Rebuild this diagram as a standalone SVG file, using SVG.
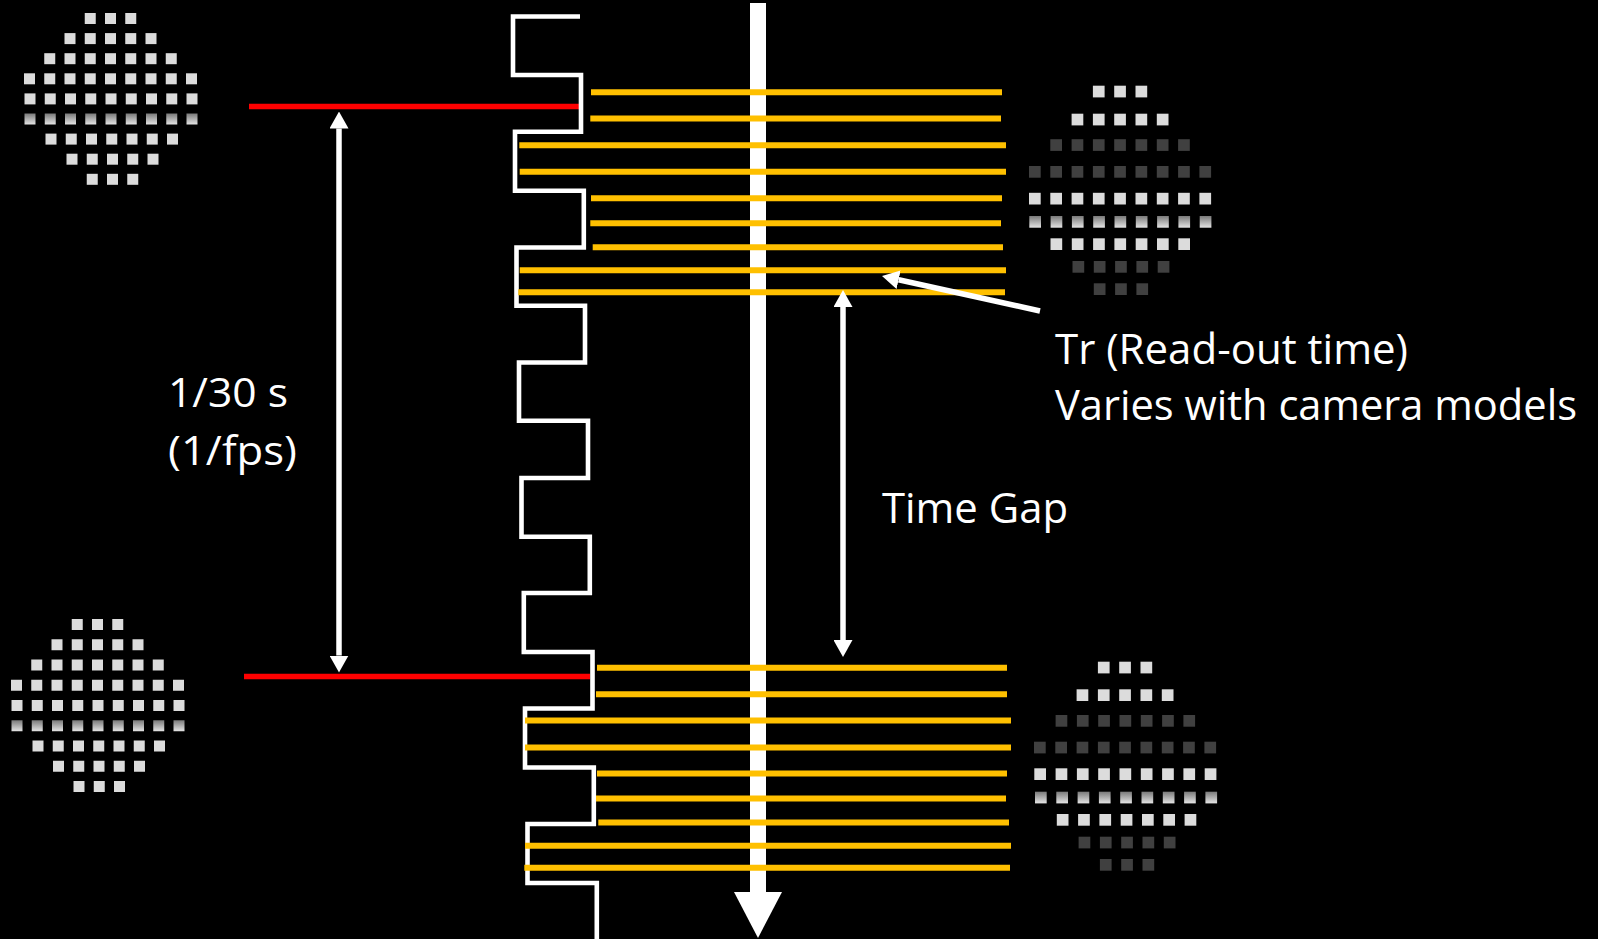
<svg xmlns="http://www.w3.org/2000/svg" xmlns:xlink="http://www.w3.org/1999/xlink" width="1598" height="939" viewBox="0 0 1598 939">
<style>
.lt{fill:#dcdcdc}
.dk{fill:#404040}
.gr{fill:url(#grad)}
.red{stroke:#ff0000;stroke-width:5.5;fill:none}
.ylw{stroke:#ffc000;stroke-width:6;fill:none}
.arr{stroke:#ffffff;stroke-width:5.5;fill:none}
.wave{stroke:#ffffff;stroke-width:4.6;fill:none;stroke-linejoin:miter}
.lbl{fill:#ffffff;font-family:"Open Sans","Liberation Sans",sans-serif}
</style>
<defs>
<linearGradient id="grad" x1="0" y1="0" x2="0" y2="1">
<stop offset="0" stop-color="#7a7a7a"/>
<stop offset="1" stop-color="#e4e4e4"/>
</linearGradient>
<marker id="ah" markerUnits="userSpaceOnUse" markerWidth="17" markerHeight="19" viewBox="0 -9.5 17 19" refX="0" refY="0" orient="auto-start-reverse">
<path d="M0,-9.5 L17,0 L0,9.5 z" fill="#ffffff"/>
</marker>
<g id="l3"><rect x="0" width="11" height="11"/><rect x="20.25" width="11" height="11"/><rect x="40.5" width="11" height="11"/></g>
<g id="l5"><use href="#l3"/><rect x="60.75" width="11" height="11"/><rect x="81" width="11" height="11"/></g>
<g id="l7"><use href="#l5"/><rect x="101.25" width="11" height="11"/><rect x="121.5" width="11" height="11"/></g>
<g id="l9"><use href="#l7"/><rect x="141.75" width="11" height="11"/><rect x="162" width="11" height="11"/></g>
<g id="r3"><rect x="0" width="11.7" height="11.7"/><rect x="21.3" width="11.7" height="11.7"/><rect x="42.6" width="11.7" height="11.7"/></g>
<g id="r5"><use href="#r3"/><rect x="63.9" width="11.7" height="11.7"/><rect x="85.2" width="11.7" height="11.7"/></g>
<g id="r7"><use href="#r5"/><rect x="106.5" width="11.7" height="11.7"/><rect x="127.8" width="11.7" height="11.7"/></g>
<g id="r9"><use href="#r7"/><rect x="149.1" width="11.7" height="11.7"/><rect x="170.4" width="11.7" height="11.7"/></g>
</defs>
<rect width="1598" height="939" fill="#000000"/>

<g id="pattern-top-left">
<use href="#l3" x="84.75" y="13" class="lt"/>
<use href="#l5" x="64.5" y="33.1" class="lt"/>
<use href="#l7" x="44.25" y="53.2" class="lt"/>
<use href="#l9" x="24" y="73.3" class="lt"/>
<use href="#l9" x="24.5" y="93.4" class="lt"/>
<use href="#l9" x="24.5" y="113.5" class="gr"/>
<use href="#l7" x="45.5" y="133.6" class="lt"/>
<use href="#l5" x="66.5" y="153.7" class="lt"/>
<use href="#l3" x="86.75" y="173.8" class="lt"/>
</g>

<g id="pattern-bottom-left">
<use href="#l3" x="71.75" y="619" class="lt"/>
<use href="#l5" x="51.5" y="639.25" class="lt"/>
<use href="#l7" x="31.25" y="659.5" class="lt"/>
<use href="#l9" x="11" y="679.75" class="lt"/>
<use href="#l9" x="11.5" y="700" class="lt"/>
<use href="#l9" x="11.5" y="720.25" class="gr"/>
<use href="#l7" x="32.5" y="740.5" class="lt"/>
<use href="#l5" x="53" y="760.75" class="lt"/>
<use href="#l3" x="73.5" y="781" class="lt"/>
</g>

<g id="pattern-top-right">
<use href="#r3" x="1092.9" y="85.7" class="lt"/>
<use href="#r5" x="1071.6" y="113.7" class="lt"/>
<use href="#r7" x="1050.3" y="139.2" class="dk"/>
<use href="#r9" x="1029" y="166" class="dk"/>
<use href="#r9" x="1029" y="192.8" class="lt"/>
<use href="#r9" x="1029.3" y="216" class="gr"/>
<use href="#r7" x="1050.5" y="238.3" class="lt"/>
<use href="#r5" x="1072.5" y="261" class="dk"/>
<use href="#r3" x="1093.8" y="283.3" class="dk"/>
</g>

<g id="pattern-bottom-right">
<use href="#r3" x="1097.9" y="661.7" class="lt"/>
<use href="#r5" x="1076.6" y="689.3" class="lt"/>
<use href="#r7" x="1055.6" y="715" class="dk"/>
<use href="#r9" x="1034" y="741.7" class="dk"/>
<use href="#r9" x="1034.3" y="768.3" class="lt"/>
<use href="#r9" x="1035" y="791.7" class="gr"/>
<use href="#r7" x="1056.8" y="814" class="lt"/>
<use href="#r5" x="1078.6" y="836.7" class="dk"/>
<use href="#r3" x="1099.9" y="859" class="dk"/>
</g>

<g id="frame-markers">
<line class="red" x1="249" y1="106.5" x2="580" y2="106.5"/>
<line class="red" x1="244" y1="676.5" x2="590" y2="676.5"/>
</g>

<g id="exposure-wave">
<path class="wave" d="M580,16.5 L513,16.5 L513,75 L581,75 L581,131.8 L515,131.8 L515,190.8 L583.8,190.8 L583.8,247.5 L516.5,247.5 L516.5,305.8 L585,305.8 L585,362.5 L519,362.5 L519,420.8 L588,420.8 L588,478 L521.5,478 L521.5,536.8 L589.8,536.8 L589.8,593 L523.8,593 L523.8,652 L592.5,652 L592.5,708.5 L525,708.5 L525,767.5 L593.8,767.5 L593.8,824 L527.5,824 L527.5,883 L596.8,883 L596.8,942"/>
</g>

<g id="timeline">
<line x1="758" y1="3" x2="758" y2="893" stroke="#ffffff" stroke-width="16"/>
<polygon points="734,892 782,892 758,938" fill="#ffffff"/>
</g>

<g id="readout-lines-1">
<line class="ylw" x1="591" y1="92.2" x2="1002" y2="92.2"/>
<line class="ylw" x1="590.3" y1="118.5" x2="1001" y2="118.5"/>
<line class="ylw" x1="519.3" y1="145.2" x2="1006" y2="145.2"/>
<line class="ylw" x1="519.7" y1="171.8" x2="1006" y2="171.8"/>
<line class="ylw" x1="591" y1="198.2" x2="1002" y2="198.2"/>
<line class="ylw" x1="590.3" y1="223.2" x2="1001" y2="223.2"/>
<line class="ylw" x1="592.7" y1="247.2" x2="1003" y2="247.2"/>
<line class="ylw" x1="519.7" y1="270.2" x2="1006" y2="270.2"/>
<line class="ylw" x1="518.3" y1="292.2" x2="1005" y2="292.2"/>
</g>

<g id="readout-lines-2">
<line class="ylw" x1="597" y1="667.8" x2="1007" y2="667.8"/>
<line class="ylw" x1="596" y1="694.2" x2="1007" y2="694.2"/>
<line class="ylw" x1="525" y1="720.5" x2="1011" y2="720.5"/>
<line class="ylw" x1="525" y1="747.5" x2="1011" y2="747.5"/>
<line class="ylw" x1="597" y1="773.5" x2="1007" y2="773.5"/>
<line class="ylw" x1="596" y1="798.5" x2="1006" y2="798.5"/>
<line class="ylw" x1="598.3" y1="822.5" x2="1009" y2="822.5"/>
<line class="ylw" x1="525" y1="845.8" x2="1011" y2="845.8"/>
<line class="ylw" x1="524.3" y1="867.8" x2="1010" y2="867.8"/>
</g>

<g id="connectors">
<line class="arr" x1="339" y1="128.5" x2="339" y2="655.5" marker-start="url(#ah)" marker-end="url(#ah)"/>
<line class="arr" x1="843" y1="307" x2="843" y2="640" marker-start="url(#ah)" marker-end="url(#ah)"/>
<line class="arr" x1="1040" y1="311" x2="898.6" y2="279.7" marker-end="url(#ah)"/>
</g>

<g id="labels">
<text class="lbl" x="168" y="407" font-size="40" textLength="120" lengthAdjust="spacingAndGlyphs">1/30 s</text>
<text class="lbl" x="168" y="465" font-size="40" textLength="129" lengthAdjust="spacingAndGlyphs">(1/fps)</text>
<text class="lbl" x="882" y="523" font-size="42" textLength="186" lengthAdjust="spacingAndGlyphs">Time Gap</text>
<text class="lbl" x="1055" y="364" font-size="42" textLength="353" lengthAdjust="spacingAndGlyphs">Tr (Read-out time)</text>
<text class="lbl" x="1055" y="420" font-size="42" textLength="522" lengthAdjust="spacingAndGlyphs">Varies with camera models</text>
</g>
</svg>
